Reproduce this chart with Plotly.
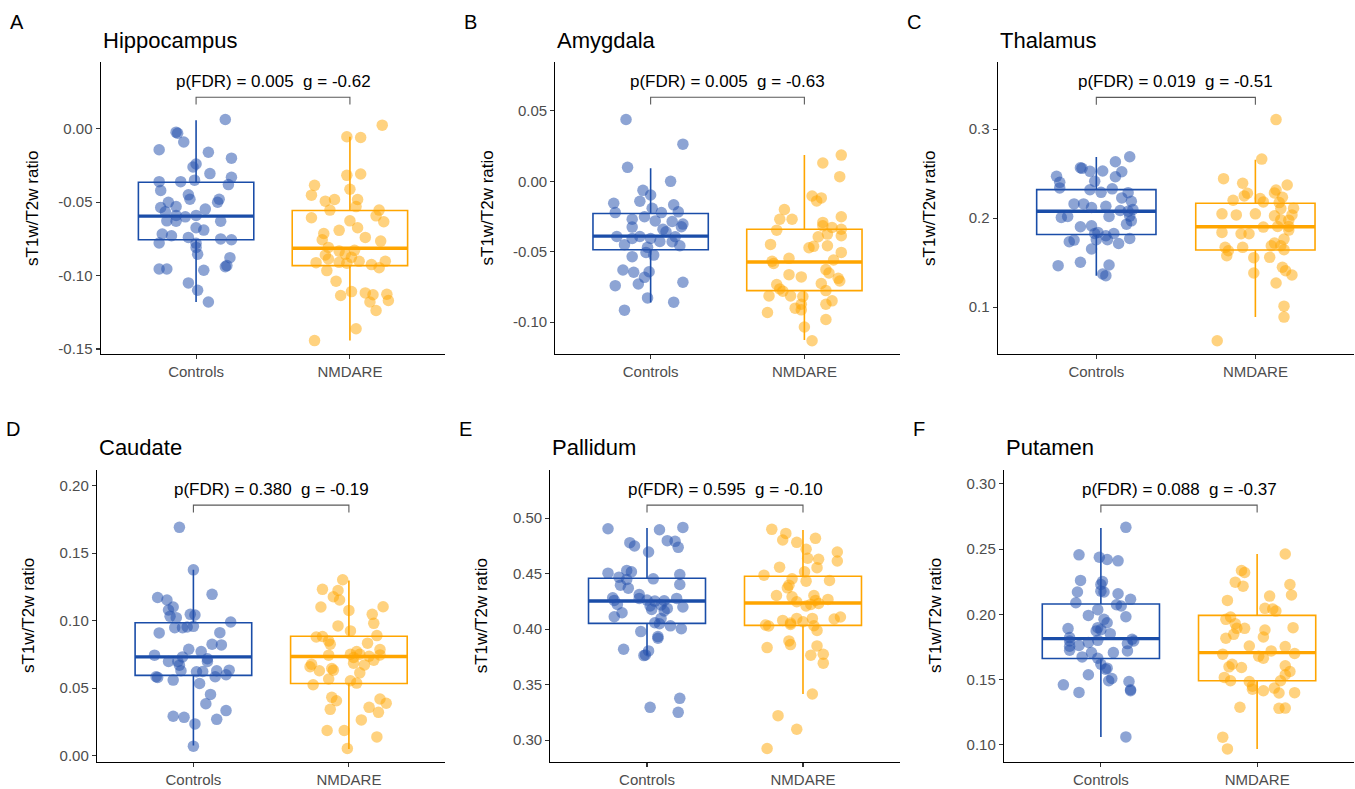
import plotly.graph_objects as go

# ---------------- data ----------------
categories = ["Controls", "NMDARE"]
panel_letters = ["A", "B", "C", "D", "E", "F"]
regions = ["Hippocampus", "Amygdala", "Thalamus", "Caudate", "Pallidum", "Putamen"]
stat_labels = [
    "p(FDR) = 0.005  g = -0.62",
    "p(FDR) = 0.005  g = -0.63",
    "p(FDR) = 0.019  g = -0.51",
    "p(FDR) = 0.380  g = -0.19",
    "p(FDR) = 0.595  g = -0.10",
    "p(FDR) = 0.088  g = -0.37",
]

# Hippocampus
hipp_ctrl = [0.0063, -0.0023, -0.0030, -0.009, -0.0143, -0.016, -0.020, -0.024, -0.026, -0.0305,
             -0.033, -0.036, -0.036, -0.035, -0.038, -0.042, -0.045, -0.048, -0.048, -0.050,
             -0.050, -0.0536, -0.053, -0.0547, -0.0566, -0.060, -0.059, -0.059, -0.0627, -0.063,
             -0.063, -0.0674, -0.069, -0.0717, -0.0729, -0.074, -0.075, -0.0756, -0.0778, -0.078,
             -0.0808, -0.0855, -0.0878, -0.0932, -0.094, -0.0955, -0.0955, -0.0964, -0.105, -0.110,
             -0.118]
hipp_ctrl_jit = [0.19, -0.13, -0.12, -0.08, -0.24, 0.08, 0.23, 0.00, -0.02, 0.09,
                 0.23, -0.24, -0.10, -0.01, 0.21, -0.23, -0.05, -0.04, 0.15, 0.14,
                 -0.18, -0.23, -0.13, 0.06, -0.20, -0.07, -0.13, 0.00, -0.19, -0.13,
                 0.16, 0.00, 0.05, -0.22, -0.16, -0.05, 0.16, 0.23, -0.24, 0.00,
                 0.00, 0.01, 0.22, 0.20, 0.19, -0.24, -0.19, 0.05, -0.05, 0.01,
                 0.08]
hipp_nmda = [0.0025, -0.0054, -0.0059, -0.0317, -0.0308, -0.0385, -0.0452, -0.0412, -0.0493, -0.0482,
             -0.0482, -0.053, -0.0554, -0.0554, -0.0593, -0.0606, -0.0633, -0.0627, -0.0674, -0.0692,
             -0.0713, -0.074, -0.0756, -0.0765, -0.0808, -0.0833, -0.0828, -0.0855, -0.086, -0.0876,
             -0.0887, -0.0912, -0.091, -0.0903, -0.0916, -0.0925, -0.0903, -0.0946, -0.0966, -0.1038,
             -0.1109, -0.1118, -0.1131, -0.1127, -0.1136, -0.117, -0.118, -0.1238, -0.1362, -0.1443]
hipp_nmda_jit = [0.21, -0.02, 0.07, -0.02, 0.07, -0.23, -0.25, 0.00, -0.16, -0.10,
                 0.05, 0.04, -0.13, 0.19, 0.17, -0.25, 0.22, 0.00, 0.05, -0.07,
                 -0.17, 0.10, -0.18, 0.20, -0.14, -0.07, 0.03, -0.03, -0.16, 0.01,
                 -0.14, -0.22, -0.07, 0.06, -0.02, 0.14, 0.23, 0.19, -0.15, -0.09,
                 0.01, 0.10, 0.15, 0.24, -0.06, 0.25, 0.13, 0.17, 0.04, -0.23]

# Amygdala
amyg_ctrl = [0.0439, 0.0264, 0.0099, 0.0, -0.0064, -0.0097, -0.0142, -0.0156, -0.0167, -0.0222,
             -0.0191, -0.0222, -0.0217, -0.0252, -0.0269, -0.0281, -0.0285, -0.0304, -0.0323, -0.0325,
             -0.034, -0.0358, -0.0392, -0.0392, -0.0394, -0.0406, -0.0406, -0.0427, -0.0429, -0.045,
             -0.0458, -0.0469, -0.0505, -0.0524, -0.0535, -0.063, -0.0646, -0.0642, -0.0682, -0.0729,
             -0.0717, -0.0741, -0.0828, -0.0858, -0.0915]
amyg_ctrl_jit = [-0.16, 0.21, -0.15, 0.13, -0.05, 0.00, -0.07, -0.24, 0.15, -0.23,
                 0.01, 0.07, 0.18, -0.04, -0.12, 0.03, 0.14, 0.21, 0.20, -0.12,
                 0.08, 0.10, -0.22, -0.07, 0.16, -0.12, 0.00, 0.06, 0.14, -0.17,
                 0.19, -0.02, -0.03, 0.02, -0.12, -0.18, -0.11, -0.01, -0.04, -0.08,
                 0.21, -0.23, -0.02, 0.15, -0.17]
amyg_nmda = [0.0186, 0.013, 0.0033, -0.0104, -0.0118, -0.0139, -0.02, -0.0269, -0.0269, -0.0252,
             -0.0292, -0.0316, -0.0328, -0.034, -0.0347, -0.0375, -0.0387, -0.0394, -0.0448, -0.0458,
             -0.0462, -0.0472, -0.0505, -0.0559, -0.0547, -0.0568, -0.0583, -0.0627, -0.0651, -0.0663,
             -0.0679, -0.0689, -0.0708, -0.0726, -0.0733, -0.0764, -0.0776, -0.078, -0.0814, -0.0814,
             -0.0818, -0.0849, -0.0873, -0.0873, -0.0901, -0.0913, -0.0932, -0.0981, -0.1035, -0.1132]
amyg_nmda_jit = [0.24, 0.12, 0.23, 0.05, 0.11, 0.08, -0.13, -0.16, -0.08, 0.24,
                 0.12, 0.12, 0.18, 0.24, -0.18, 0.15, 0.24, 0.09, -0.22, 0.15,
                 0.06, 0.03, 0.24, 0.19, -0.10, -0.21, -0.20, 0.14, 0.16, -0.10,
                 -0.02, 0.22, 0.23, 0.11, -0.18, -0.16, 0.14, -0.14, -0.23, -0.09,
                 -0.01, 0.18, 0.14, -0.02, -0.06, -0.02, -0.24, 0.14, 0.00, 0.05]

# Thalamus
thal_ctrl = [0.269, 0.2634, 0.2567, 0.256, 0.253, 0.2526, 0.2522, 0.247, 0.2466, 0.2403,
             0.2414, 0.234, 0.232, 0.233, 0.229, 0.2287, 0.2228, 0.219, 0.216, 0.216,
             0.212, 0.2134, 0.2086, 0.2078, 0.2097, 0.2022, 0.2007, 0.2019, 0.2019, 0.197,
             0.1933, 0.1903, 0.1914, 0.184, 0.1828, 0.1828, 0.1802, 0.1772, 0.1735, 0.1754,
             0.1757, 0.1757, 0.1716, 0.1653, 0.1466, 0.1504, 0.1474, 0.1373, 0.1354]
thal_ctrl_jit = [0.21, 0.12, -0.10, -0.09, 0.04, -0.04, 0.16, -0.25, 0.12, -0.23,
                 -0.01, -0.23, -0.04, 0.10, 0.03, 0.20, 0.16, 0.22, -0.14, -0.08,
                 -0.03, 0.06, 0.15, 0.20, 0.23, 0.21, -0.22, -0.18, 0.08, 0.22,
                 0.19, -0.10, -0.03, 0.01, -0.01, 0.11, 0.06, 0.21, -0.17, -0.14,
                 0.00, 0.07, 0.14, -0.03, -0.24, -0.10, 0.08, 0.04, 0.06]
thal_nmda = [0.3108, 0.2664, 0.2444, 0.2392, 0.2373, 0.2317, 0.228, 0.225, 0.2284, 0.2235,
             0.2201, 0.222, 0.2183, 0.2175, 0.2108, 0.2112, 0.2049, 0.2037, 0.2049, 0.2026,
             0.2037, 0.1978, 0.1981, 0.19, 0.1907, 0.1907, 0.1866, 0.184, 0.1825, 0.1825,
             0.1765, 0.172, 0.169, 0.169, 0.1672, 0.1672, 0.1634, 0.1578, 0.1646, 0.156,
             0.1556, 0.1448, 0.141, 0.1362, 0.1384, 0.1272, 0.1011, 0.0888, 0.0623]
thal_nmda_jit = [0.13, 0.04, -0.20, -0.08, 0.20, 0.13, -0.05, -0.07, 0.12, 0.17,
                 -0.14, 0.03, 0.05, 0.15, 0.16, 0.24, -0.21, -0.12, 0.00, 0.12,
                 0.23, 0.21, 0.16, 0.05, 0.21, 0.14, 0.21, -0.21, -0.09, -0.04,
                 0.18, 0.12, 0.10, 0.16, -0.08, -0.19, -0.17, -0.18, 0.18, 0.09,
                 -0.01, 0.17, 0.19, 0.23, -0.01, 0.13, 0.18, 0.18, -0.24]

# Caudate
caud_ctrl = [0.1692, 0.1377, 0.1195, 0.1172, 0.1153, 0.1101, 0.1079, 0.1047, 0.1042, 0.1032,
             0.1022, 0.099, 0.0948, 0.0948, 0.0958, 0.0953, 0.0909, 0.0911, 0.0825, 0.082,
             0.0788, 0.0771, 0.0744, 0.0731, 0.0717, 0.0697, 0.0697, 0.067, 0.0697, 0.0628,
             0.0621, 0.0623, 0.0628, 0.0633, 0.0599, 0.0584, 0.0579, 0.0584, 0.0559, 0.0534,
             0.0453, 0.0384, 0.0333, 0.0291, 0.0283, 0.0268, 0.0234, 0.0069]
caud_ctrl_jit = [-0.09, 0.00, 0.12, -0.23, -0.17, -0.13, -0.16, -0.02, 0.01, -0.15,
                 -0.11, 0.24, -0.12, -0.07, 0.00, -0.04, -0.22, 0.17, 0.12, 0.18,
                 -0.03, 0.05, -0.25, -0.07, 0.09, -0.16, -0.10, -0.09, 0.09, -0.08,
                 0.02, 0.06, 0.15, 0.23, 0.21, -0.24, -0.23, 0.14, -0.13, 0.04,
                 0.11, 0.08, 0.21, -0.13, -0.06, 0.15, 0.01, 0.00]
caud_nmda = [0.1303, 0.1232, 0.1224, 0.1177, 0.1153, 0.1103, 0.1101, 0.1076, 0.1047, 0.098,
             0.0961, 0.0924, 0.0889, 0.0879, 0.0882, 0.085, 0.0825, 0.0833, 0.0786, 0.0771,
             0.0751, 0.0751, 0.0746, 0.0736, 0.0744, 0.0727, 0.0707, 0.0685, 0.0677, 0.0672,
             0.0658, 0.0645, 0.0628, 0.0633, 0.0613, 0.0567, 0.0554, 0.0537, 0.0525, 0.0431,
             0.0406, 0.0419, 0.0387, 0.0357, 0.032, 0.0342, 0.0264, 0.0185, 0.0185, 0.0138,
             0.0052]
caud_nmda_jit = [-0.04, -0.17, -0.07, -0.10, -0.06, 0.22, -0.18, 0.00, 0.15, 0.16,
                 -0.07, 0.01, 0.18, -0.21, -0.17, -0.13, -0.12, 0.12, 0.20, 0.05,
                 0.01, 0.07, 0.20, 0.13, -0.13, 0.03, 0.16, 0.03, -0.24, 0.10,
                 -0.25, -0.11, -0.19, -0.10, 0.07, -0.13, 0.01, 0.05, -0.23, -0.11,
                 -0.08, 0.20, 0.24, 0.13, 0.19, -0.12, 0.08, -0.14, -0.03, 0.18,
                 -0.01]

# Pallidum
pall_ctrl = [0.4904, 0.4895, 0.4916, 0.4779, 0.4749, 0.4797, 0.4791, 0.4737, 0.4695, 0.4504,
             0.4528, 0.4516, 0.4492, 0.4468, 0.4447, 0.4453, 0.4396, 0.4402, 0.4369, 0.4312,
             0.4277, 0.4283, 0.4259, 0.4262, 0.4253, 0.4256, 0.4277, 0.4208, 0.4217, 0.4223,
             0.4199, 0.4178, 0.4187, 0.4163, 0.4148, 0.4112, 0.4097, 0.4058, 0.4049, 0.403,
             0.4004, 0.3978, 0.3933, 0.3918, 0.3819, 0.3804, 0.3768, 0.3762, 0.3377, 0.3296,
             0.3251]
pall_ctrl_jit = [-0.25, 0.08, 0.23, -0.11, -0.08, 0.13, 0.18, 0.20, 0.01, -0.25,
                 -0.13, -0.10, 0.21, -0.18, -0.13, 0.04, -0.17, 0.21, -0.12, -0.05,
                 -0.05, -0.22, -0.21, 0.00, 0.05, 0.11, 0.19, 0.02, 0.09, -0.19,
                 0.23, 0.03, 0.13, 0.11, -0.16, -0.21, 0.09, 0.05, 0.08, 0.15,
                 0.22, -0.04, 0.07, 0.07, -0.15, 0.01, -0.01, -0.02, 0.21, 0.02,
                 0.20]
pall_nmda = [0.4899, 0.4862, 0.4803, 0.4818, 0.4782, 0.4719, 0.4695, 0.463, 0.4638, 0.4614,
             0.4558, 0.4554, 0.4516, 0.4486, 0.4453, 0.4438, 0.4432, 0.4396, 0.4372, 0.4303,
             0.4291, 0.4303, 0.4247, 0.4259, 0.4268, 0.4232, 0.4208, 0.4223, 0.4091, 0.4109,
             0.4079, 0.4097, 0.4055, 0.4067, 0.4097, 0.4037, 0.4028, 0.4043, 0.4031, 0.3989,
             0.3894, 0.3861, 0.3834, 0.3849, 0.3765, 0.3774, 0.3694, 0.3416, 0.3221, 0.3099,
             0.2925]
pall_nmda_jit = [-0.20, -0.11, -0.13, 0.08, -0.04, 0.02, 0.22, 0.10, 0.03, 0.22,
                 -0.15, 0.09, 0.01, -0.25, -0.07, 0.17, 0.02, -0.09, -0.10, -0.17,
                 -0.07, 0.07, -0.04, 0.08, 0.16, 0.10, 0.02, 0.05, 0.20, 0.24,
                 -0.13, -0.04, -0.08, 0.00, 0.06, -0.24, -0.22, -0.08, 0.07, 0.09,
                 -0.09, -0.08, -0.23, 0.09, 0.05, 0.13, 0.13, 0.06, -0.16, -0.04,
                 -0.23]

# Putamen
puta_ctrl = [0.2667, 0.2456, 0.2438, 0.242, 0.241, 0.226, 0.2252, 0.2229, 0.2178, 0.2171,
             0.2171, 0.2158, 0.2115, 0.2089, 0.2074, 0.2064, 0.2036, 0.1992, 0.1982, 0.1962,
             0.1936, 0.1891, 0.1898, 0.1883, 0.1873, 0.1852, 0.1822, 0.1796, 0.1809, 0.1796,
             0.1801, 0.1784, 0.1776, 0.1756, 0.1761, 0.172, 0.1725, 0.1707, 0.1707, 0.1674,
             0.1664, 0.1618, 0.158, 0.1588, 0.1537, 0.1491, 0.1509, 0.1486, 0.146, 0.1422,
             0.1415, 0.1402, 0.1061]
puta_ctrl_jit = [0.16, -0.14, -0.01, 0.04, 0.11, -0.13, 0.01, 0.00, 0.00, 0.02,
                 -0.15, 0.11, 0.19, -0.16, 0.10, 0.13, -0.02, -0.08, 0.16, 0.02,
                 0.04, -0.21, -0.02, 0.00, -0.03, 0.06, -0.20, -0.20, 0.20, 0.21,
                 -0.02, -0.08, 0.17, -0.20, -0.14, 0.17, -0.20, -0.06, 0.08, -0.12,
                 -0.02, 0.00, 0.03, 0.04, -0.08, 0.05, 0.07, 0.18, -0.24, 0.19,
                 0.19, -0.14, 0.16]
puta_nmda = [0.2463, 0.2336, 0.2321, 0.2247, 0.2229, 0.2216, 0.214, 0.2148, 0.2107, 0.2046,
             0.2041, 0.2025, 0.198, 0.1962, 0.1929, 0.1893, 0.1893, 0.188, 0.1898, 0.1847,
             0.1827, 0.1817, 0.1758, 0.1753, 0.172, 0.1695, 0.17, 0.1664, 0.1679, 0.1618,
             0.1598, 0.1593, 0.1606, 0.1562, 0.1537, 0.1517, 0.1491, 0.1486, 0.1491, 0.145,
             0.1427, 0.1415, 0.1435, 0.1397, 0.14, 0.1288, 0.128, 0.1282, 0.1059, 0.0969]
puta_nmda_jit = [0.18, -0.10, -0.08, -0.14, 0.21, -0.09, 0.08, 0.22, -0.19, 0.05,
                 0.10, 0.12, -0.17, -0.20, -0.14, -0.13, -0.08, 0.05, 0.23, -0.15,
                 0.04, -0.20, -0.05, 0.18, 0.09, -0.22, 0.24, 0.04, 0.01, -0.16,
                 -0.18, -0.10, 0.18, 0.21, 0.18, -0.21, -0.17, -0.05, 0.15, -0.03,
                 -0.03, 0.04, 0.11, 0.14, 0.24, -0.11, 0.14, 0.18, -0.22, -0.19]

# box statistics [q1, median, q3, lower whisker, upper whisker]
box_ctrl = [
    [-0.0756, -0.0595, -0.0364, -0.118, 0.0059],
    [-0.0486, -0.0389, -0.0229, -0.0861, 0.0092],
    [0.1817, 0.2078, 0.2321, 0.1354, 0.2687],
    [0.0594, 0.0731, 0.0985, 0.0074, 0.1377],
    [0.4052, 0.4253, 0.4459, 0.3765, 0.4910],
    [0.1662, 0.1814, 0.2079, 0.1061, 0.2662],
]
box_nmda = [
    [-0.0932, -0.0814, -0.0557, -0.1443, -0.0054],
    [-0.0776, -0.0573, -0.0340, -0.1127, 0.0186],
    [0.1642, 0.1903, 0.2168, 0.0888, 0.2657],
    [0.0534, 0.0734, 0.0884, 0.0049, 0.1298],
    [0.4034, 0.4235, 0.4477, 0.3416, 0.4893],
    [0.1491, 0.1707, 0.1992, 0.0969, 0.2463],
]
bracket_y = [0.0215, 0.0597, 0.3358, 0.1857, 0.5117, 0.2837]
y_ranges = [[-0.1534, 0.0452], [-0.1226, 0.0844], [0.0474, 0.375],
            [-0.0049, 0.2118], [0.2803, 0.5434], [0.0868, 0.3107]]
y_tickvals = [[0.0, -0.05, -0.10, -0.15], [0.05, 0.0, -0.05, -0.10], [0.1, 0.2, 0.3],
              [0.0, 0.05, 0.10, 0.15, 0.20], [0.30, 0.35, 0.40, 0.45, 0.50],
              [0.10, 0.15, 0.20, 0.25, 0.30]]
y_ticktext = [["0.00", "-0.05", "-0.10", "-0.15"], ["0.05", "0.00", "-0.05", "-0.10"],
              ["0.1", "0.2", "0.3"], ["0.00", "0.05", "0.10", "0.15", "0.20"],
              ["0.30", "0.35", "0.40", "0.45", "0.50"], ["0.10", "0.15", "0.20", "0.25", "0.30"]]

ctrl_values = [hipp_ctrl, amyg_ctrl, thal_ctrl, caud_ctrl, pall_ctrl, puta_ctrl]
ctrl_jitter = [hipp_ctrl_jit, amyg_ctrl_jit, thal_ctrl_jit, caud_ctrl_jit, pall_ctrl_jit, puta_ctrl_jit]
nmda_values = [hipp_nmda, amyg_nmda, thal_nmda, caud_nmda, pall_nmda, puta_nmda]
nmda_jitter = [hipp_nmda_jit, amyg_nmda_jit, thal_nmda_jit, caud_nmda_jit, pall_nmda_jit, puta_nmda_jit]

# ---------------- layout / style ----------------
W, H = 1355, 789
FONT = "Liberation Sans, Arial, sans-serif"
col_px = [[100.7, 445.3], [555.3, 899.7], [997.7, 1354.0],
          [97.0, 445.3], [550.3, 899.7], [1004.0, 1354.0]]
row_px = [[62.7, 355.3], [62.7, 355.3], [62.7, 355.3],
          [471.7, 765.0], [471.7, 765.0], [471.7, 765.0]]

BLUE_PT = "rgba(36, 80, 172, 0.52)"
BLUE_LN = "#1A4DA8"
ORNG_PT = "rgba(255, 165, 0, 0.5)"
ORNG_LN = "#FFA500"
X_RANGE = [0.38, 2.62]
BOX_HALF = 0.375

fig = go.Figure()
annotations = []

for i in range(6):
    xa = "x" if i == 0 else f"x{i+1}"
    ya = "y" if i == 0 else f"y{i+1}"
    groups = [(1, box_ctrl[i], ctrl_values[i], ctrl_jitter[i], BLUE_PT, BLUE_LN),
              (2, box_nmda[i], nmda_values[i], nmda_jitter[i], ORNG_PT, ORNG_LN)]
    for pos, st, vals, jit, pcol, lcol in groups:
        fig.add_trace(go.Box(
            x=[pos], q1=[st[0]], median=[st[1]], q3=[st[2]],
            lowerfence=[st[3]], upperfence=[st[4]],
            width=2 * BOX_HALF, whiskerwidth=0, boxpoints=False,
            line=dict(color=lcol, width=1.6), fillcolor="rgba(0,0,0,0)",
            xaxis=xa, yaxis=ya, showlegend=False, hoverinfo="skip"))
        fig.add_trace(go.Scatter(
            x=[pos - BOX_HALF, pos + BOX_HALF], y=[st[1], st[1]], mode="lines",
            line=dict(color=lcol, width=3.4), xaxis=xa, yaxis=ya,
            showlegend=False, hoverinfo="skip"))
        fig.add_trace(go.Scatter(
            x=[pos + j for j in jit], y=vals, mode="markers",
            marker=dict(size=11.5, color=pcol, line=dict(width=0)),
            xaxis=xa, yaxis=ya, showlegend=False))
    # significance bracket
    yr = y_ranges[i]
    tip = 0.025 * (yr[1] - yr[0])
    yb = bracket_y[i]
    fig.add_trace(go.Scatter(
        x=[1, 1, 2, 2], y=[yb - tip, yb, yb, yb - tip], mode="lines",
        line=dict(color="#5A5A5A", width=1.1), xaxis=xa, yaxis=ya,
        showlegend=False, hoverinfo="skip"))
    annotations.append(dict(x=1.5, y=yb, xref=xa, yref=ya, text=stat_labels[i],
                            showarrow=False, yanchor="bottom", yshift=4,
                            font=dict(family=FONT, size=17, color="black")))

    x0, x1 = col_px[i]
    top, bot = row_px[i]
    dom_x = [x0 / W, x1 / W]
    dom_y = [1 - bot / H, 1 - top / H]
    xkey = "xaxis" if i == 0 else f"xaxis{i+1}"
    ykey = "yaxis" if i == 0 else f"yaxis{i+1}"
    fig.layout[xkey] = dict(
        domain=dom_x, anchor=ya, range=X_RANGE, showgrid=False, zeroline=False,
        showline=True, linecolor="black", linewidth=1.2,
        tickvals=[1, 2], ticktext=categories, ticks="outside", ticklen=4,
        tickcolor="#333333", tickwidth=1.1,
        tickfont=dict(family=FONT, size=15, color="#4D4D4D"), fixedrange=True)
    fig.layout[ykey] = dict(
        domain=dom_y, anchor=xa, range=yr, showgrid=False, zeroline=False,
        showline=True, linecolor="black", linewidth=1.2,
        tickvals=y_tickvals[i], ticktext=y_ticktext[i], ticks="outside", ticklen=4,
        tickcolor="#333333", tickwidth=1.1,
        tickfont=dict(family=FONT, size=15, color="#4D4D4D"), fixedrange=True)

    # axis title
    annotations.append(dict(x=(x0 - 68) / W, y=1 - ((top + bot) / 2) / H, xref="paper", yref="paper",
                            text="sT1w/T2w ratio", textangle=-90, showarrow=False,
                            xanchor="center", yanchor="middle",
                            font=dict(family=FONT, size=17, color="black")))
    # panel title
    annotations.append(dict(x=x0 / W, y=1 - (top - 22) / H, xref="paper", yref="paper",
                            text=regions[i], showarrow=False, xanchor="left", yanchor="middle",
                            font=dict(family=FONT, size=22, color="black")))
    # panel letter
    annotations.append(dict(x=(x0 - 93) / W, y=1 - (top - 41) / H, xref="paper", yref="paper",
                            text=panel_letters[i], showarrow=False, xanchor="left", yanchor="middle",
                            font=dict(family=FONT, size=20, color="black")))

fig.update_layout(
    width=W, height=H, margin=dict(l=0, r=0, t=0, b=0),
    paper_bgcolor="white", plot_bgcolor="white",
    showlegend=False, annotations=annotations,
    font=dict(family=FONT),
)

fig.write_html("out.html", config={"displayModeBar": False, "staticPlot": True},
               post_script="document.body.style.margin='0';document.body.style.overflow='hidden';")
